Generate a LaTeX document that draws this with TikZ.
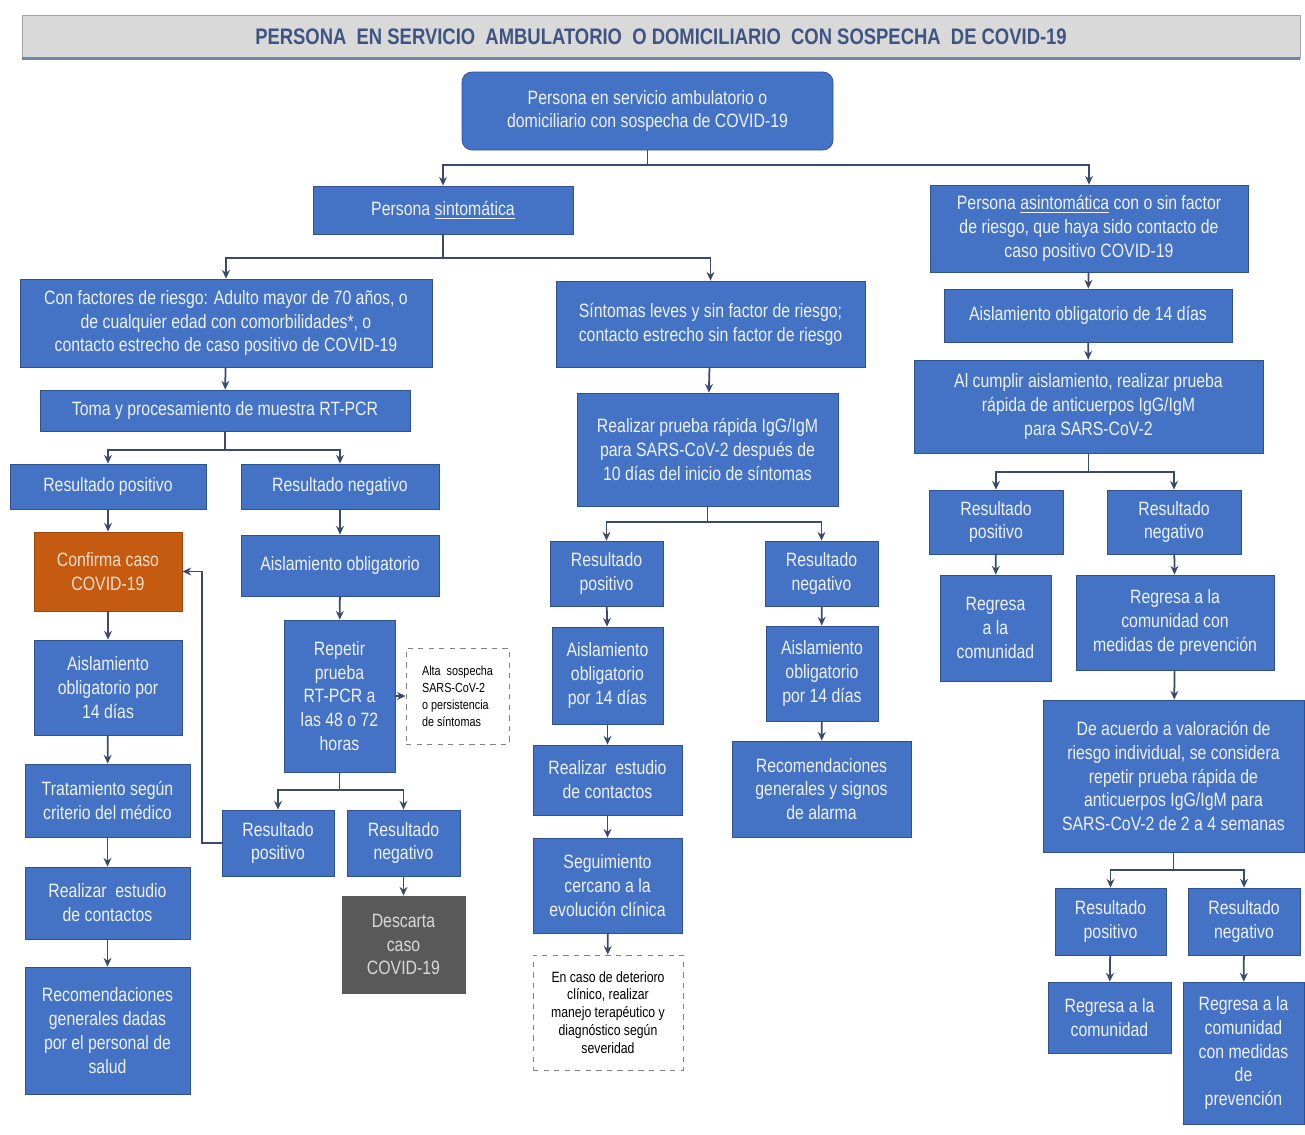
\documentclass[tikz,border=0pt]{standalone}
\usepackage{fontspec}
\setmainfont[FakeStretch=0.82]{Liberation Sans}
\usetikzlibrary{arrows.meta}
\definecolor{boxblue}{HTML}{4472C4}
\definecolor{boxedge}{HTML}{2F528F}
\definecolor{boxtext}{HTML}{EEF2FA}
\definecolor{linecol}{HTML}{3B4A6B}
\definecolor{casoorange}{HTML}{C55A11}
\definecolor{casotext}{HTML}{FBE0CC}
\definecolor{descgray}{HTML}{595959}
\definecolor{titlegray}{HTML}{D9D9D9}
\definecolor{titletext}{HTML}{3F5481}
\begin{document}
\begin{tikzpicture}[x=0.02cm,y=-0.02cm]

    \tikzset{
      box/.style={
        draw=boxedge,
        fill=boxblue,
        text=boxtext,
        align=center,
        inner sep=1pt,
        font=\fontsize{11}{13.6}\selectfont,
      },
      sz/.style 2 args={minimum width=#1*0.02cm, minimum height=#2*0.02cm},
      note/.style={
        draw=gray,
        dashed,
        fill=white,
        text=black,
        inner sep=2pt,
      },
      arr/.style={
        draw=linecol,
        line width=1pt,
        -{Stealth[length=5pt,width=4.5pt]},
      },
    }
    \useasboundingbox (0,0) rectangle (1305,1134);

    % title and root
    \node[draw=gray!70, fill=titlegray, sz={1278}{43}, text=titletext,
      font=\bfseries\fontsize{12.8}{15}\selectfont] (title) at (661,36.5)
      {PERSONA \ EN SERVICIO \ AMBULATORIO \ O DOMICILIARIO \ CON SOSPECHA \ DE COVID-19};
    \draw[draw=boxedge!70, line width=1.5pt] (title.south west) -- (title.south east);
    \node[box, sz={371}{78}, rounded corners=0.2cm] (root) at (647.5,111)
      {Persona en servicio ambulatorio o\\domiciliario con sospecha de COVID-19};

    % second level
    \node[box, sz={260}{48}] (sint) at (443,210) {Persona \underline{sintomática}};
    \node[box, sz={318}{87}] (asint) at (1089,228.5)
      {Persona \underline{asintomática} con o sin factor\\de riesgo, que haya sido contacto de\\caso positivo COVID-19};
    \node[box, sz={412}{88}] (riesgo) at (226,323)
      {Con factores de riesgo: Adulto mayor de 70 años, o\\de cualquier edad con comorbilidades*, o\\contacto estrecho de caso positivo de COVID-19};
    \node[box, sz={309}{86}] (leves) at (710.5,324)
      {Síntomas leves y sin factor de riesgo;\\contacto estrecho sin factor de riesgo};

    % left branch
    \node[box, sz={370}{41}] (toma) at (225,410.5) {Toma y procesamiento de muestra RT-PCR};
    \node[box, sz={196}{45}] (rpos) at (108,486.5) {Resultado positivo};
    \node[box, sz={198}{45}] (rneg) at (340,486.5) {Resultado negativo};
    \node[box, sz={148}{79}, fill=casoorange, draw=casoorange!80!black, text=casotext] (confirma) at (108,571.5)
      {Confirma caso\\COVID-19};
    \node[box, sz={148}{95}] (aisl) at (108,687.5) {Aislamiento\\obligatorio por\\14 días};
    \node[box, sz={165}{73}] (trat) at (107.5,800.5) {Tratamiento según\\criterio del médico};
    \node[box, sz={165}{72}] (estudio) at (107.5,903) {Realizar \ estudio\\de contactos};
    \node[box, sz={165}{127}] (recom) at (107.5,1030.5)
      {Recomendaciones\\generales dadas\\por el personal de\\salud};
    \node[box, sz={198}{61}] (aisob) at (340,565.5) {Aislamiento obligatorio};
    \node[box, sz={111}{152}] (repetir) at (339.5,696)
      {Repetir\\prueba\\RT-PCR a\\las 48 o 72\\horas};
    \node[note, sz={103}{96}, align=left, font=\fontsize{7.5}{9.6}\selectfont] (alta) at (457.5,696)
      {Alta \ sospecha\\SARS-CoV-2\\o persistencia\\de síntomas};
    \node[box, sz={112}{66}] (ppos) at (278,843) {Resultado\\positivo};
    \node[box, sz={113}{66}] (pneg) at (403.5,843) {Resultado\\negativo};
    \node[box, sz={123}{97}, fill=descgray, draw=descgray, text=titlegray] (descarta) at (403.5,944.5)
      {Descarta\\caso\\COVID-19};

    % middle branch
    \node[box, sz={261}{113}] (rapida) at (707.5,449.5)
      {Realizar prueba rápida IgG/IgM\\para SARS-CoV-2 después de\\10 días del inicio de síntomas};
    \node[box, sz={113}{65}] (mpos) at (606.5,573.5) {Resultado\\positivo};
    \node[box, sz={113}{65}] (mneg) at (821.5,573.5) {Resultado\\negativo};
    \node[box, sz={111}{97}] (maisp) at (607.5,675.5) {Aislamiento\\obligatorio\\por 14 días};
    \node[box, sz={112}{95}] (maisn) at (822,673.5) {Aislamiento\\obligatorio\\por 14 días};
    \node[box, sz={149}{70}] (mest) at (607.5,780) {Realizar \ estudio\\de contactos};
    \node[box, sz={179}{96}] (mrec) at (821.5,789)
      {Recomendaciones\\generales y signos\\de alarma};
    \node[box, sz={149}{95}] (mseg) at (607.5,885.5) {Seguimiento\\cercano a la\\evolución clínica};
    \node[note, sz={150}{115}, align=center, font=\fontsize{8.5}{10.2}\selectfont] (deter) at (608,1012.5)
      {En caso de deterioro\\clínico, realizar\\manejo terapéutico y\\diagnóstico según\\severidad};

    % right branch
    \node[box, sz={288}{53}] (ais14) at (1088,315.5) {Aislamiento obligatorio de 14 días};
    \node[box, sz={349}{93}] (cumplir) at (1088.5,406.5)
      {Al cumplir aislamiento, realizar prueba\\rápida de anticuerpos IgG/IgM\\para SARS-CoV-2};
    \node[box, sz={134}{64}] (apos) at (996,522) {Resultado\\positivo};
    \node[box, sz={134}{64}] (aneg) at (1174,522) {Resultado\\negativo};
    \node[box, sz={111}{106}] (aregp) at (995.5,628) {Regresa\\a la\\comunidad};
    \node[box, sz={198}{95}] (aregn) at (1175,622.5)
      {Regresa a la\\comunidad con\\medidas de prevención};
    \node[box, sz={261}{152}] (acuerdo) at (1173.5,776)
      {De acuerdo a valoración de\\riesgo individual, se considera\\repetir prueba rápida de\\anticuerpos IgG/IgM para\\SARS-CoV-2 de 2 a 4 semanas};
    \node[box, sz={111}{67}] (bpos) at (1110.5,921.5) {Resultado\\positivo};
    \node[box, sz={112}{67}] (bneg) at (1244,921.5) {Resultado\\negativo};
    \node[box, sz={123}{71}] (bregp) at (1109.5,1017.5) {Regresa a la\\comunidad};
    \node[box, sz={121}{142}] (bregn) at (1243.5,1053)
      {Regresa a la\\comunidad\\con medidas\\de\\prevención};

    % connectors
    \draw[arr] (root.south) -- ++(0,15) -| (sint.north);
    \draw[arr] (root.south) -- ++(0,15) -| (asint.north);
    \draw[arr] (sint.south) -- ++(0,24) -| (riesgo.north);
    \draw[arr] (sint.south) -- ++(0,24) -| (leves.north);
    \draw[arr] (riesgo) -- (toma);
    \draw[arr] (toma.south) -- ++(0,19) -| (rpos.north);
    \draw[arr] (toma.south) -- ++(0,19) -| (rneg.north);
    \draw[arr] (rpos) -- (confirma);
    \draw[arr] (confirma) -- (aisl);
    \draw[arr] (aisl) -- (trat);
    \draw[arr] (trat) -- (estudio);
    \draw[arr] (estudio) -- (recom);
    \draw[arr] (rneg) -- (aisob);
    \draw[arr] (aisob) -- (repetir);
    \draw[arr] (repetir) -- (alta);
    \draw[arr] (repetir.south) -- ++(0,18) -| (ppos.north);
    \draw[arr] (repetir.south) -- ++(0,18) -| (pneg.north);
    \draw[arr] (ppos.west) -- ++(-20,0) |- (confirma.east);
    \draw[arr] (pneg) -- (descarta);
    \draw[arr] (leves) -- (rapida);
    \draw[arr] (rapida.south) -- ++(0,16) -| (mpos.north);
    \draw[arr] (rapida.south) -- ++(0,16) -| (mneg.north);
    \draw[arr] (mpos) -- (maisp);
    \draw[arr] (maisp) -- (mest);
    \draw[arr] (mest) -- (mseg);
    \draw[arr] (mseg) -- (deter);
    \draw[arr] (mneg) -- (maisn);
    \draw[arr] (maisn) -- (mrec);
    \draw[arr] (asint) -- (ais14);
    \draw[arr] (ais14) -- (cumplir);
    \draw[arr] (cumplir.south) -- ++(0,19) -| (apos.north);
    \draw[arr] (cumplir.south) -- ++(0,19) -| (aneg.north);
    \draw[arr] (apos) -- (aregp);
    \draw[arr] (aneg) -- (aregn);
    \draw[arr] (aregn) -- (acuerdo);
    \draw[arr] (acuerdo.south) -- ++(0,18) -| (bpos.north);
    \draw[arr] (acuerdo.south) -- ++(0,18) -| (bneg.north);
    \draw[arr] (bpos) -- (bregp);
    \draw[arr] (bneg) -- (bregn);

\end{tikzpicture}
\end{document}
